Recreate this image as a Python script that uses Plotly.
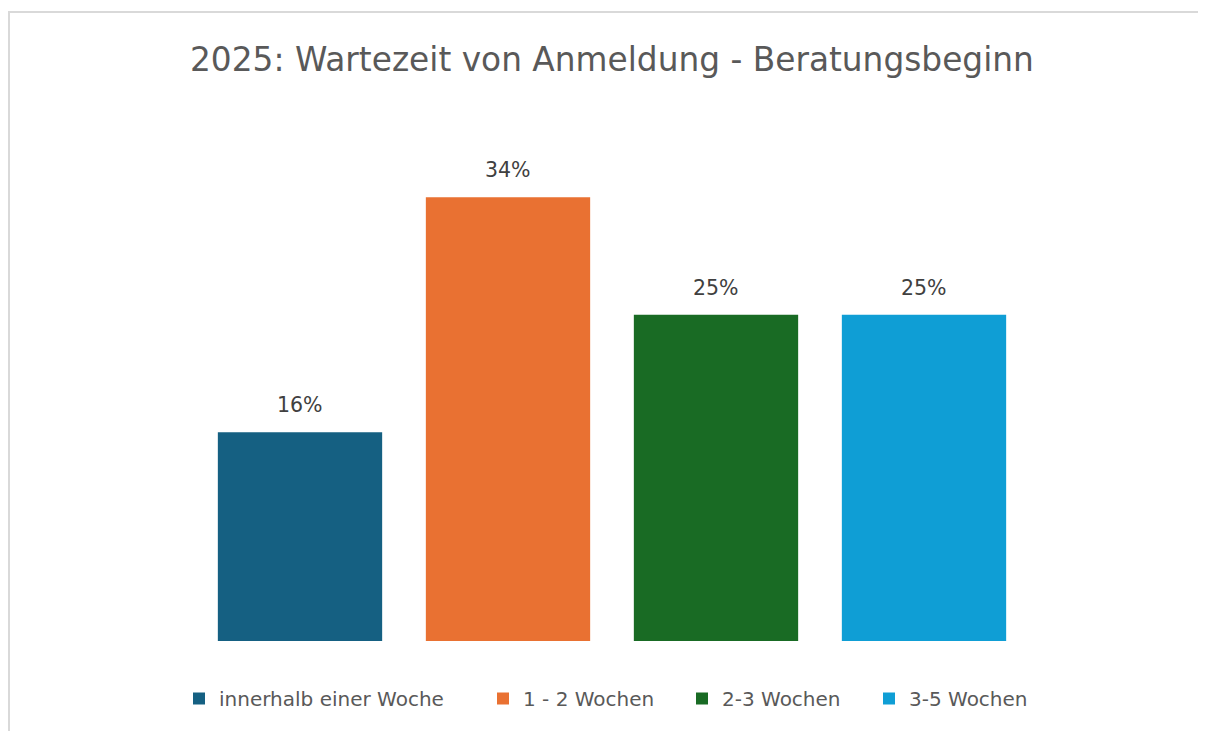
import plotly.graph_objects as go

categories = ["innerhalb einer Woche", "1 - 2 Wochen", "2-3 Wochen", "3-5 Wochen"]
values = [16, 34, 25, 25]
labels = ["16%", "34%", "25%", "25%"]
colors = ["#156082", "#E97132", "#196B24", "#0F9ED5"]
legend_widths = [259, 154, 142, 130]
title_text = "2025: Wartezeit von Anmeldung - Beratungsbeginn"

W, H = 1198, 723
OFF = 8  # page body margin
FONT = "DejaVu Sans, sans-serif"
TXT = "#595959"

fig = go.Figure()
for cat, val, col, lw in zip(categories, values, colors, legend_widths):
    fig.add_trace(go.Bar(
        x=[cat], y=[val], name=cat,
        marker=dict(color=col, line=dict(width=0)),
        width=0.79, hoverinfo="skip", legendwidth=lw,
    ))

def px(xp):
    return (xp - OFF) / W

def py(yp):
    return (H - (yp - OFF)) / H

for cat, val, lab in zip(categories, values, labels):
    fig.add_annotation(x=cat, y=val, xref="x", yref="y", text=lab,
                       showarrow=False, yanchor="bottom", yshift=13,
                       font=dict(family=FONT, size=20.5, color="#404040"))

fig.add_annotation(x=px(611.5), y=py(60), xref="paper", yref="paper",
                   text=title_text, showarrow=False, xanchor="center", yanchor="middle",
                   font=dict(family=FONT, size=32.8, color=TXT))

# chart area border (top and left)
fig.add_shape(type="line", xref="paper", yref="paper",
              x0=px(8), x1=px(1206), y0=py(12), y1=py(12),
              line=dict(color="#D9D9D9", width=2))
fig.add_shape(type="line", xref="paper", yref="paper",
              x0=px(9), x1=px(9), y0=py(12), y1=py(731),
              line=dict(color="#D9D9D9", width=2))

fig.update_layout(
    width=W, height=H,
    margin=dict(l=0, r=0, t=0, b=0),
    paper_bgcolor="white", plot_bgcolor="white",
    barmode="relative",
    showlegend=True,
    legend=dict(orientation="h", x=px(179), xanchor="left", y=py(698.5), yanchor="middle",
                font=dict(family=FONT, size=20, color=TXT), traceorder="normal",
                itemwidth=30, bgcolor="rgba(0,0,0,0)"),
    xaxis=dict(domain=[px(196), px(1028)], showticklabels=False, showgrid=False,
               zeroline=False, showline=False, ticks="", categoryorder="array",
               categoryarray=categories),
    yaxis=dict(domain=[py(641), py(119)], range=[0, 40], showticklabels=False,
               showgrid=False, zeroline=False, showline=False, ticks=""),
)

fig.write_html("out.html")
